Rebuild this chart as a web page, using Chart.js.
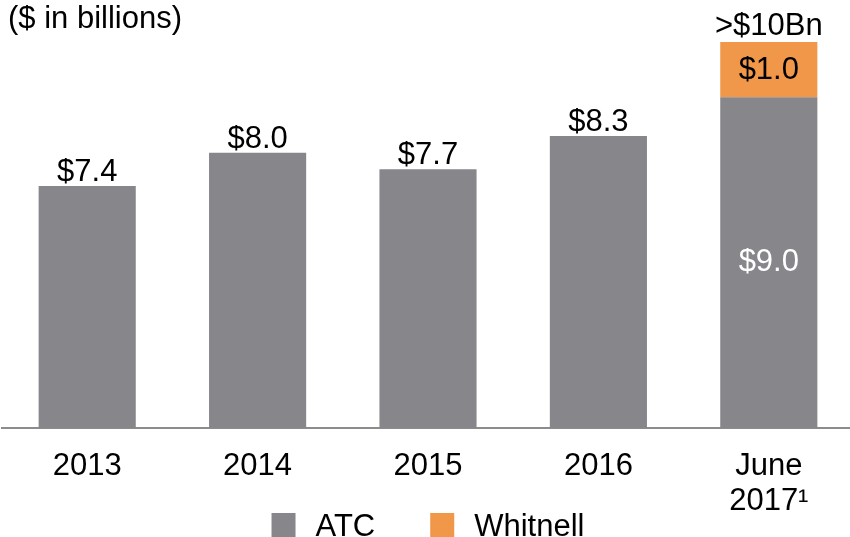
<!DOCTYPE html>
<html>
<head>
<meta charset="utf-8">
<script src="https://cdn.jsdelivr.net/npm/chart.js@4/dist/chart.umd.min.js"></script>
<style>
  html, body { margin: 0; padding: 0; background: #ffffff; overflow: hidden; width: 850px; height: 537px; }
  #wrap { width: 854px; height: 537px; }
</style>
</head>
<body>
<div id="wrap"><canvas id="c" width="854" height="537"></canvas></div>
<script>
// ---- data ----
const categories = ['2013', '2014', '2015', '2016', ['June', '2017\u00B9']];
const atcValues = [7.4, 8.0, 7.7, 8.3, 9.0];
const whitnellValues = [null, null, null, null, 1.0];
const seriesNames = ['ATC', 'Whitnell'];
const totalLabels = [null, null, null, null, '>$10Bn'];
const unitTitle = '($ in billions)';

const GRAY = '#87868b';
const ORANGE = '#f0974a';
const FONT = '"Liberation Sans", Arial, Helvetica, sans-serif';
const FS = 31;

function money(v) { return '$' + v.toFixed(1); }

const labelPlugin = {
  id: 'labels',
  afterDatasetsDraw(chart) {
    const ctx = chart.ctx;
    const ca = chart.chartArea;
    const m0 = chart.getDatasetMeta(0);
    const m1 = chart.getDatasetMeta(1);
    ctx.save();
    ctx.font = FS + 'px ' + FONT;
    ctx.textAlign = 'center';
    categories.forEach((c, i) => {
      const b0 = m0.data[i];
      const hasW = whitnellValues[i] !== null && whitnellValues[i] !== undefined;
      if (!hasW) {
        ctx.fillStyle = '#000';
        ctx.textBaseline = 'alphabetic';
        ctx.fillText(money(atcValues[i]), b0.x, b0.y - 5);
      } else {
        const b1 = m1.data[i];
        const bottom0 = Math.min(b0.base, ca.bottom);
        ctx.fillStyle = '#ffffff';
        ctx.textBaseline = 'middle';
        ctx.fillText(money(atcValues[i]), b0.x, (b0.y + bottom0) / 2);
        ctx.fillStyle = '#000';
        ctx.fillText(money(whitnellValues[i]), b1.x, (b1.y + b1.base) / 2 + 1);
        if (totalLabels[i]) {
          ctx.textBaseline = 'alphabetic';
          ctx.fillText(totalLabels[i], b1.x, b1.y - 7);
        }
      }
    });
    ctx.restore();
  },
  afterDraw(chart) {
    const ctx = chart.ctx;
    ctx.save();
    ctx.font = FS + 'px ' + FONT;
    ctx.fillStyle = '#000';
    ctx.textAlign = 'left';
    ctx.textBaseline = 'alphabetic';
    ctx.fillText(unitTitle, 8, 28);

    // legend
    const box = 24, gap = 20, spacing = 55;
    const items = chart.data.datasets.map(d => ({ text: d.label, color: d.backgroundColor, w: ctx.measureText(d.label).width }));
    let total = 0;
    items.forEach((it, k) => { total += box + gap + it.w + (k < items.length - 1 ? spacing : 0); });
    const ca = chart.chartArea;
    let x = (ca.left + ca.right) / 2 - total / 2;
    items.forEach(it => {
      ctx.fillStyle = it.color;
      ctx.fillRect(x, 513, box, box);
      ctx.fillStyle = '#000';
      ctx.fillText(it.text, x + box + gap, 536);
      x += box + gap + it.w + spacing;
    });
    ctx.restore();
  }
};

new Chart(document.getElementById('c'), {
  type: 'bar',
  data: {
    labels: categories,
    datasets: [
      { label: seriesNames[0], data: atcValues, backgroundColor: GRAY, borderWidth: 0 },
      { label: seriesNames[1], data: whitnellValues, backgroundColor: ORANGE, borderWidth: 0 }
    ]
  },
  options: {
    responsive: false,
    animation: false,
    devicePixelRatio: 1,
    layout: { padding: { left: 2, right: 0, top: 0, bottom: 0 } },
    datasets: { bar: { barPercentage: 0.57, categoryPercentage: 1.0 } },
    plugins: { legend: { display: false }, tooltip: { enabled: false }, title: { display: false } },
    scales: {
      x: {
        stacked: true,
        grid: { display: false, drawTicks: false },
        border: { display: true, color: '#8c8c8c', width: 2 },
        ticks: { color: '#000', font: { family: FONT, size: FS, lineHeight: 1.16 }, padding: 20, maxRotation: 0, autoSkip: false },
        afterFit(scale) { scale.height = 109; }
      },
      y: {
        stacked: true,
        display: false,
        min: 3.03,
        max: 10.756
      }
    }
  },
  plugins: [labelPlugin]
});
</script>
</body>
</html>
